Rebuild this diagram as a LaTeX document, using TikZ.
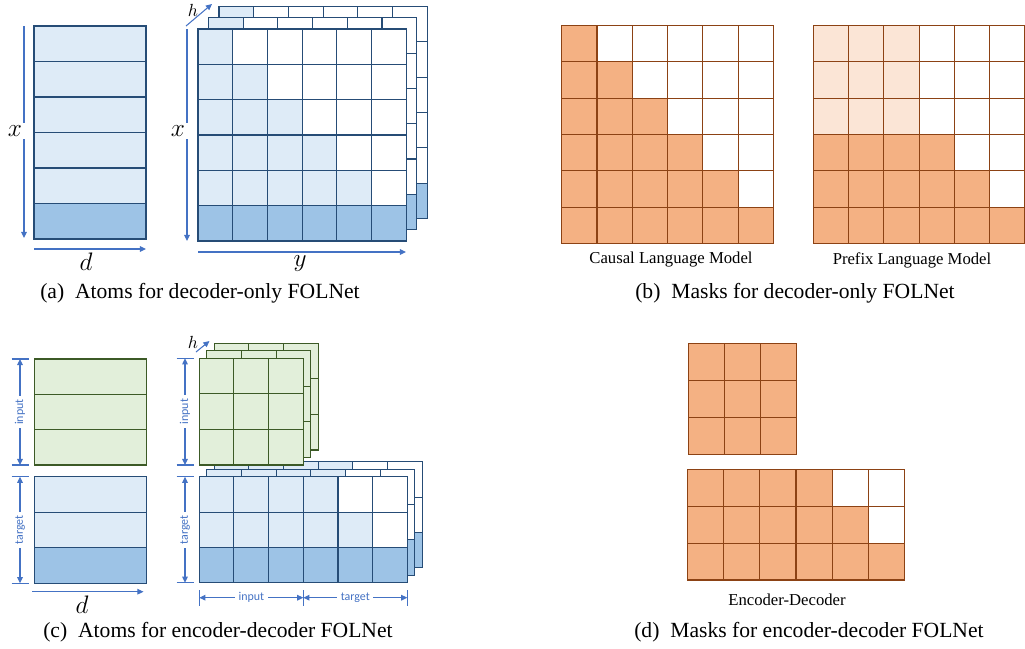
\documentclass[tikz,border=0pt]{standalone}
\usepackage{fontspec}
\setmainfont{Liberation Serif}
\newfontfamily\dimfont{Carlito}
\usetikzlibrary{arrows.meta}

\definecolor{blueline}{RGB}{38,76,118}
\definecolor{greenline}{RGB}{60,90,38}
\definecolor{brownline}{RGB}{140,66,20}
\definecolor{arrowblue}{RGB}{68,114,196}
\definecolor{bfill0}{RGB}{255,255,255}
\definecolor{bfill1}{RGB}{222,235,247}
\definecolor{bfill2}{RGB}{157,195,230}
\definecolor{ofill0}{RGB}{255,255,255}
\definecolor{ofill1}{RGB}{251,229,214}
\definecolor{ofill2}{RGB}{244,177,131}
\definecolor{gfill}{RGB}{226,239,218}

\tikzset{
  bcell/.style={draw=blueline, line width=0.6pt},
  gcell/.style={draw=greenline, line width=0.6pt, fill=gfill},
  ocell/.style={draw=brownline, line width=0.6pt},
  dimarrow/.style={arrowblue, line width=0.6pt, -{Triangle[length=3.5pt,width=3.2pt]}},
  dimboth/.style={arrowblue, line width=0.6pt, {Triangle[length=3.5pt,width=3.2pt]}-{Triangle[length=3.5pt,width=3.2pt]}},
  tickline/.style={arrowblue, line width=0.6pt},
  mathlbl/.style={font=\fontsize{14}{14}\selectfont, inner sep=1.5pt},
  hlbl/.style={font=\fontsize{10}{10}\selectfont, inner sep=1pt},
  dimlbl/.style={font=\dimfont\fontsize{6.8}{8}\selectfont, fill=white, inner sep=2pt},
  sublbl/.style={font=\fontsize{9.5}{11}\selectfont},
  caption/.style={font=\fontsize{12.3}{14}\selectfont},
}

\begin{document}
\begin{tikzpicture}[x=0.02cm, y=-0.02cm]
\useasboundingbox (0,0) rectangle (1025,649);

% (a) atoms for decoder-only
\foreach \i in {0,...,5} {
  \pgfmathtruncatemacro\c{\i==5 ? 2 : 1}
  \draw[bcell, fill=bfill\c] (34,26+35.5*\i) rectangle ++(112,35.5);
}
\foreach \k in {2,1,0} {
  \begin{scope}[shift={(10.5*\k,-11.3*\k)}]
    \foreach \i in {0,...,5} \foreach \j in {0,...,5} {
      \pgfmathtruncatemacro\c{\i==5 ? 2 : (\j<=\i ? 1 : 0)}
      \draw[bcell, fill=bfill\c] (198+34.7*\j,29+35.33*\i) rectangle ++(34.7,35.33);
    }
  \end{scope}
}
\coordinate (xa-s) at (24,26);
\coordinate (xa-e) at (24,238);
\draw[dimarrow] (xa-s) -- (xa-e);
\node[mathlbl, fill=white] (xa) at (15,131) {$x$};
\coordinate (da-s) at (34,249);
\coordinate (da-e) at (146,249);
\draw[dimarrow] (da-s) -- (da-e);
\node[mathlbl] (da) at (86,262) {$d$};
\coordinate (xb-s) at (187,29);
\coordinate (xb-e) at (187,241);
\draw[dimarrow] (xb-s) -- (xb-e);
\node[mathlbl, fill=white] (xb) at (178,131) {$x$};
\coordinate (yb-s) at (198,252);
\coordinate (yb-e) at (406,252);
\draw[dimarrow] (yb-s) -- (yb-e);
\node[mathlbl] (yb) at (300,264) {$y$};
\coordinate (hb-s) at (186,26);
\coordinate (hb-e) at (212,4);
\draw[dimarrow] (hb-s) -- (hb-e);
\node[hlbl] (hb) at (193,10) {$h$};
\node[caption] (capa) at (200,293) {(a)\enspace Atoms for decoder-only FOLNet};

% (b) masks for decoder-only
\foreach \i in {0,...,5} \foreach \j in {0,...,5} {
  \pgfmathtruncatemacro\c{\j<=\i ? 2 : 0}
  \draw[ocell, fill=ofill\c] (561.7+35.27*\j,25.7+36.27*\i) rectangle ++(35.27,36.27);
}
\node[sublbl] (causal) at (671,260) {Causal Language Model};
\foreach \i in {0,...,5} \foreach \j in {0,...,5} {
  \pgfmathtruncatemacro\c{\i<3 ? (\j<3 ? 1 : 0) : (\j<=\i ? 2 : 0)}
  \draw[ocell, fill=ofill\c] (813.3+35.27*\j,25.7+36.27*\i) rectangle ++(35.27,36.27);
}
\node[sublbl] (prefix) at (912,260) {Prefix Language Model};
\node[caption] (capb) at (795,293) {(b)\enspace Masks for decoder-only FOLNet};

% (c) atoms for encoder-decoder
\foreach \i in {0,1,2}
  \draw[gcell] (34.3,359+35.33*\i) rectangle ++(112.4,35.33);
\foreach \i in {0,1,2} {
  \pgfmathtruncatemacro\c{\i==2 ? 2 : 1}
  \draw[bcell, fill=bfill\c] (34.3,476.7+35.53*\i) rectangle ++(112.4,35.53);
}
\foreach \k in {2,1,0} {
  \begin{scope}[shift={(7.4*\k,-7.5*\k)}]
    \foreach \i in {0,1,2} \foreach \j in {0,...,5} {
      \pgfmathtruncatemacro\c{\i==2 ? 2 : (\j<=\i+3 ? 1 : 0)}
      \draw[bcell, fill=bfill\c] (199.3+34.67*\j,476.7+35.33*\i) rectangle ++(34.67,35.33);
    }
  \end{scope}
}
\foreach \k in {2,1,0} {
  \begin{scope}[shift={(7.4*\k,-7.5*\k)}]
    \foreach \i in {0,1,2} \foreach \j in {0,1,2}
      \draw[gcell] (199.3+34.67*\j,358.3+35.57*\i) rectangle ++(34.67,35.57);
  \end{scope}
}
% left dimensions
\foreach \y in {359,465,476.7,583.3}
  \draw[tickline] (11.7,\y) -- (29.3,\y);
\coordinate (inl-s) at (20,359);
\coordinate (inl-e) at (20,465);
\draw[dimboth] (inl-s) -- node[dimlbl, rotate=90] (inl) {input} (inl-e);
\coordinate (tgl-s) at (20,476.7);
\coordinate (tgl-e) at (20,583.3);
\draw[dimboth] (tgl-s) -- node[dimlbl, rotate=90] (tgl) {target} (tgl-e);
\coordinate (dc-s) at (32,591.7);
\coordinate (dc-e) at (143.5,591.7);
\draw[dimarrow] (dc-s) -- (dc-e);
\node[mathlbl] (dc) at (82,605) {$d$};
% right dimensions
\foreach \y in {358.3,465,476.7,582.7}
  \draw[tickline] (176.7,\y) -- (194,\y);
\coordinate (inr-s) at (185,358.3);
\coordinate (inr-e) at (185,465);
\draw[dimboth] (inr-s) -- node[dimlbl, rotate=90] (inr) {input} (inr-e);
\coordinate (tgr-s) at (185,476.7);
\coordinate (tgr-e) at (185,582.7);
\draw[dimboth] (tgr-s) -- node[dimlbl, rotate=90] (tgr) {target} (tgr-e);
\foreach \x in {199.3,303.3,407.3}
  \draw[tickline] (\x,590) -- (\x,606);
\coordinate (inb-s) at (199.3,597.7);
\coordinate (inb-m) at (303.3,597.7);
\coordinate (inb-e) at (407.3,597.7);
\draw[dimboth] (inb-s) -- node[dimlbl] (inb) {input} (inb-m);
\draw[dimboth] (inb-m) -- node[dimlbl] (tgb) {target} (inb-e);
\coordinate (hc-s) at (196,352);
\coordinate (hc-e) at (209.5,341);
\draw[dimarrow] (hc-s) -- (hc-e);
\node[hlbl] (hc) at (193,342) {$h$};
\node[caption] (capc) at (218,632) {(c)\enspace Atoms for encoder-decoder FOLNet};

% (d) masks for encoder-decoder
\foreach \i in {0,1,2} \foreach \j in {0,1,2}
  \draw[ocell, fill=ofill2] (688.3+36.13*\j,343.3+37*\i) rectangle ++(36.13,37);
\foreach \i in {0,1,2} \foreach \j in {0,...,5} {
  \pgfmathtruncatemacro\c{\j<=\i+3 ? 2 : 0}
  \draw[ocell, fill=ofill\c] (687.7+36.1*\j,469.3+36.9*\i) rectangle ++(36.1,36.9);
}
\node[sublbl] (encdec) at (787,599.3) {Encoder-Decoder};
\node[caption] (capd) at (809,632) {(d)\enspace Masks for encoder-decoder FOLNet};
\end{tikzpicture}
\end{document}
